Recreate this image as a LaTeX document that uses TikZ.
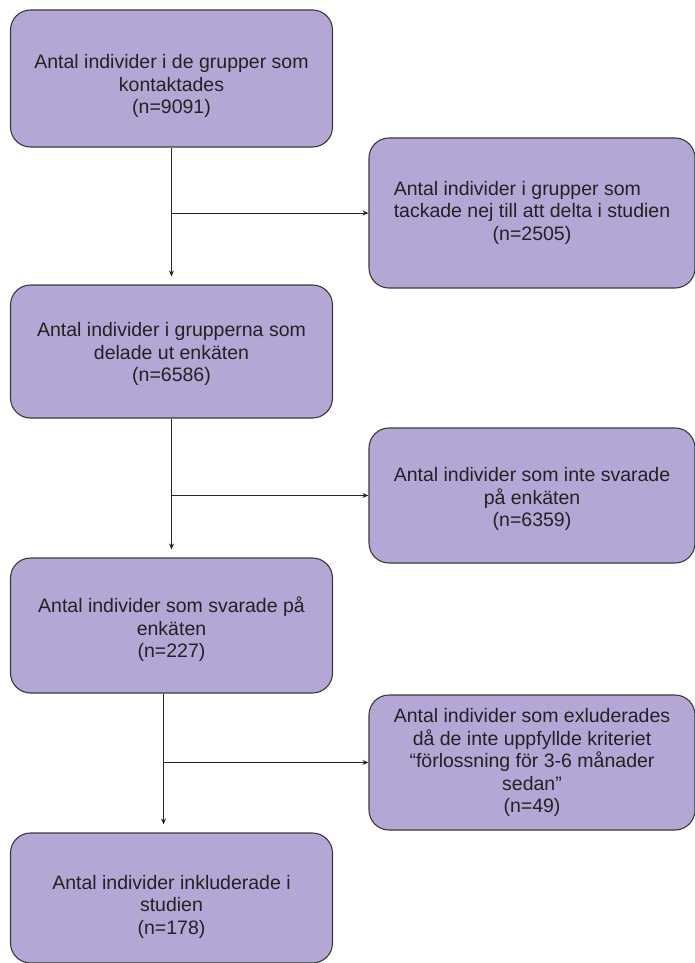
\documentclass[tikz,border=0pt]{standalone}
\usepackage{fontspec}
\setmainfont{Liberation Sans}
\usetikzlibrary{arrows.meta}

\definecolor{boxfill}{HTML}{B4A7D6}
\definecolor{boxline}{HTML}{3A3A3A}
\definecolor{textgray}{HTML}{222222}

% invisible strut that pushes a box's text down
\newcommand{\dropby}[1]{\rule{0pt}{#1}}

\tikzset{
  flowbox/.style={draw=boxline, fill=boxfill, line width=1.1pt, rounded corners=20pt,
    align=center, text=textgray, inner sep=0pt,
    font=\fontsize{19.5}{22.5}\selectfont},
  leftbox/.style={flowbox, minimum width=322pt},
  rightbox/.style={flowbox, minimum width=326pt},
  flowarrow/.style={draw=black!85, line width=0.9pt, -{Stealth[length=6pt,width=5pt]}}
}

\begin{document}
\begin{tikzpicture}[x=1pt,y=-1pt]

\useasboundingbox (0,0) rectangle (695,963);

\node[leftbox, minimum height=137pt] (kontakt) at (171.5,78.5)
  {\dropby{30pt}Antal individer i de grupper som\\kontaktades\\(n=9091)};
\node[rightbox, minimum height=150pt] (nej) at (532,213)
  {\begin{tabular}{@{}l@{}}Antal individer i grupper som\\tackade nej till att delta i studien\\\multicolumn{1}{@{}c@{}}{(n=2505)}\end{tabular}};
\node[leftbox, minimum height=133pt] (delade) at (171.5,351.5)
  {\dropby{20pt}Antal individer i grupperna som\\delade ut enkäten\\(n=6586)};
\node[rightbox, minimum height=135pt] (ejsvar) at (532,495.5)
  {\dropby{22pt}Antal individer som inte svarade\\på enkäten\\(n=6359)};
\node[leftbox, minimum height=135pt] (svarade) at (171.5,625.5)
  {\dropby{24pt}Antal individer som svarade på\\enkäten\\(n=227)};
\node[rightbox, minimum height=135pt] (exkl) at (532,762.5)
  {Antal individer som exluderades\\då de inte uppfyllde kriteriet\\“förlossning för 3-6 månader\\sedan”\\(n=49)};
\node[leftbox, minimum height=130pt] (inkl) at (171.5,898)
  {\dropby{32pt}Antal individer inkluderade i\\studien\\(n=178)};

% main flow
\draw[flowarrow, shorten >=8pt] (kontakt.south) -- (delade.north);
\draw[flowarrow, shorten >=8pt] (delade.south) -- (svarade.north);
\draw[flowarrow, shorten >=8pt] ([xshift=-8pt]svarade.south) -- ([xshift=-8pt]inkl.north);

% drop-outs
\draw[flowarrow] (kontakt.south |- nej.west) -- (nej.west);
\draw[flowarrow] (delade.south |- ejsvar.west) -- (ejsvar.west);
\draw[flowarrow] ([xshift=-8pt]svarade.south |- exkl.west) -- (exkl.west);

\end{tikzpicture}
\end{document}
